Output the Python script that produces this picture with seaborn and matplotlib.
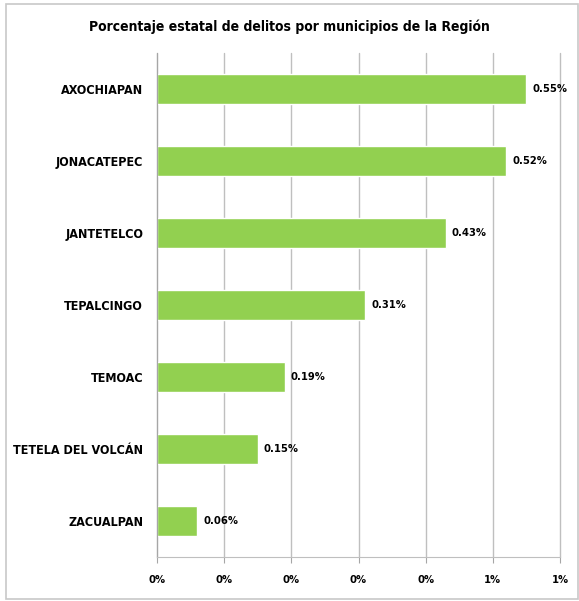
import seaborn as sns
import pandas as pd
import matplotlib.pyplot as plt
from matplotlib.patches import Rectangle

sns.set_style("white")
plt.rcParams['font.family'] = ['DejaVu Sans']
plt.rcParams['font.stretch'] = 'condensed'
plt.rcParams['text.color'] = 'black'
plt.rcParams['xtick.color'] = 'black'
plt.rcParams['ytick.color'] = 'black'

municipios = ["AXOCHIAPAN", "JONACATEPEC", "JANTETELCO", "TEPALCINGO",
              "TEMOAC", "TETELA DEL VOLCÁN", "ZACUALPAN"]
porcentaje = [0.55, 0.52, 0.43, 0.31, 0.19, 0.15, 0.06]
ticks_x = [0.0, 0.1, 0.2, 0.3, 0.4, 0.5, 0.6]
ticks_txt = ["0%", "0%", "0%", "0%", "0%", "1%", "1%"]

df = pd.DataFrame({"municipio": municipios, "pct": porcentaje})

fig = plt.figure(figsize=(5.79, 6.01), dpi=100)
ax = fig.add_axes([0.2712, 0.0732, 0.696, 0.8386])
sns.barplot(data=df, y="municipio", x="pct", color="#92D050", saturation=1,
            width=0.42, orient="h", ax=ax)

ax.set_xlim(0, 0.6)
ax.set_ylim(len(municipios) - 0.5, -0.5)
ax.set_xticks(ticks_x)
ax.set_xticklabels(ticks_txt, fontsize=8, fontweight="bold")
ax.set_yticks(range(len(municipios)))
ax.set_yticklabels(municipios, fontsize=9, fontweight="bold")
ax.set_yticks([i - 0.5 for i in range(len(municipios) + 1)], minor=True)
ax.tick_params(axis="y", which="major", length=0, pad=10)
ax.tick_params(axis="y", which="minor", length=5, color="#A6A6A6", direction="out")
ax.tick_params(axis="x", length=4, color="#A6A6A6", direction="out", pad=9, bottom=True)
ax.set_xlabel("")
ax.set_ylabel("")

ax.grid(axis="x", color="#BFBFBF", linewidth=1)
ax.set_axisbelow(True)
for gl in ax.get_xgridlines():
    gl.set_clip_on(False)
for s in ["top", "right"]:
    ax.spines[s].set_visible(False)
ax.spines["left"].set_color("#A6A6A6")
ax.spines["bottom"].set_color("#BFBFBF")

for i, v in enumerate(porcentaje):
    ax.text(v + 0.009, i, f"{v:.2f}%", va="center", ha="left",
            fontsize=8, fontweight="bold")

fig.text(0.5, 0.955, "Porcentaje estatal de delitos por municipios de la Región",
         ha="center", va="center", fontsize=10, fontweight="bold")

fig.patches.append(Rectangle((0.010, 0.004), 0.988, 0.989, transform=fig.transFigure,
                             fill=False, edgecolor="#C8C8C8", linewidth=1.2))

fig.savefig("out.png", dpi=100)
